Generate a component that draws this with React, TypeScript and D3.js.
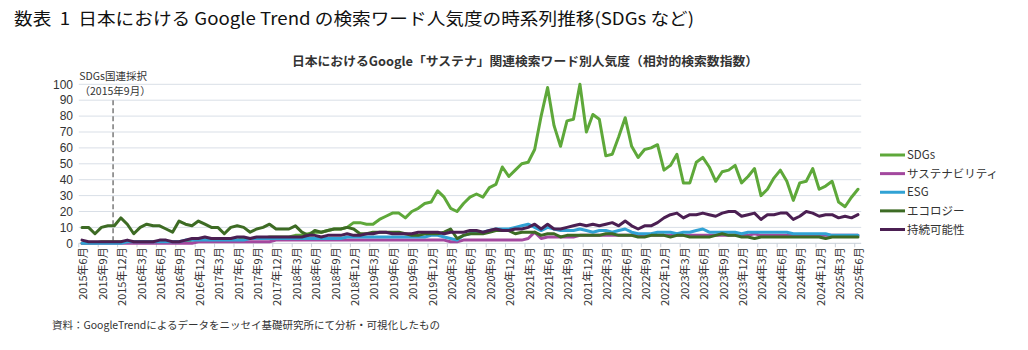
import React from 'react';
import * as d3 from 'd3';

// 2015年6月〜2025年6月 の月次（121点）
const sdgs = [
  0, 0, 0, 1, 1, 1, 1, 1, 1, 1, 1, 1,
  1, 1, 1, 1, 1, 2, 2, 2, 2, 2, 2, 2,
  2, 3, 3, 3, 3, 4, 4, 4, 4, 5, 5, 6,
  7, 7, 8, 9, 9, 10, 13, 13, 12, 12, 15, 17,
  19, 19, 16, 20, 22, 25, 26, 33, 29, 22, 20, 25,
  29, 31, 29, 35, 37, 48, 42, 46, 50, 51, 59, 80,
  98, 74, 61, 77, 78, 100, 70, 81, 78, 55, 56, 67,
  79, 61, 54, 59, 60, 62, 46, 49, 56, 38, 38, 51,
  54, 48, 39, 45, 46, 49, 38, 42, 47, 30, 34, 41,
  46, 39, 27, 38, 39, 47, 34, 36, 39, 26, 23, 29,
  34,
];

const sustainability = [
  0, 0, 0, 0, 0, 0, 0, 0, 0, 0, 0, 0,
  0, 0, 0, 0, 0, 0, 1, 1, 1, 1, 1, 1,
  1, 1, 1, 1, 1, 1, 2, 2, 2, 2, 2, 2,
  2, 2, 2, 2, 2, 2, 2, 2, 2, 2, 2, 2,
  2, 2, 2, 2, 2, 2, 2, 2, 2, 1, 1, 2,
  2, 2, 2, 2, 2, 2, 2, 2, 2, 3, 7, 3,
  4, 4, 4, 4, 4, 5, 5, 5, 5, 5, 5, 5,
  5, 5, 5, 5, 5, 5, 5, 5, 5, 5, 5, 5,
  5, 5, 5, 5, 5, 5, 5, 5, 6, 5, 5, 5,
  5, 5, 5, 5, 5, 5, 5, 5, 5, 5, 5, 5,
  5,
];

const esg = [
  0, 0, 0, 0, 0, 0, 0, 1, 1, 1, 1, 1,
  1, 1, 1, 1, 2, 2, 2, 2, 2, 2, 2, 2,
  2, 2, 3, 3, 3, 3, 3, 3, 3, 3, 3, 3,
  3, 3, 3, 3, 3, 4, 4, 4, 4, 4, 4, 4,
  4, 4, 4, 4, 4, 4, 5, 5, 4, 3, 2, 5,
  6, 7, 7, 8, 9, 9, 9, 10, 11, 12, 10, 8,
  10, 9, 8, 8, 8, 9, 8, 7, 8, 8, 7, 8,
  9, 7, 6, 6, 6, 7, 7, 7, 6, 7, 7, 8,
  9, 7, 7, 7, 7, 7, 6, 7, 7, 7, 7, 7,
  7, 7, 6, 6, 6, 6, 6, 6, 5, 5, 5, 5,
  5,
];

const ecology = [
  10, 10, 6, 10, 11, 11, 16, 12, 6, 10, 12, 11,
  11, 9, 7, 14, 12, 11, 14, 12, 10, 10, 6, 10,
  11, 10, 7, 9, 10, 12, 9, 9, 9, 11, 7, 5,
  8, 7, 8, 9, 9, 10, 9, 6, 6, 7, 7, 7,
  7, 7, 6, 5, 5, 6, 6, 6, 7, 9, 3, 5,
  6, 6, 6, 7, 8, 8, 8, 6, 7, 7, 7, 5,
  6, 6, 4, 5, 5, 5, 5, 5, 5, 6, 6, 5,
  5, 5, 4, 4, 5, 5, 5, 4, 5, 5, 4, 4,
  4, 4, 5, 6, 5, 5, 4, 4, 3, 4, 4, 4,
  4, 4, 4, 4, 4, 4, 4, 3, 4, 4, 4, 4,
  4,
];

const jizoku = [
  2, 1, 1, 1, 1, 1, 1, 2, 1, 1, 1, 1,
  2, 2, 1, 1, 2, 3, 3, 4, 3, 3, 3, 3,
  4, 4, 3, 4, 4, 4, 4, 4, 4, 4, 4, 5,
  5, 4, 5, 5, 5, 6, 5, 5, 6, 6, 7, 7,
  6, 6, 6, 6, 7, 7, 7, 7, 6, 7, 7, 7,
  8, 8, 7, 8, 9, 8, 8, 9, 9, 10, 12, 9,
  12, 9, 9, 10, 11, 12, 11, 12, 11, 12, 13, 11,
  14, 11, 9, 11, 11, 13, 16, 18, 19, 16, 18, 18,
  19, 18, 17, 19, 20, 20, 17, 18, 19, 15, 18, 18,
  19, 19, 15, 17, 20, 19, 17, 18, 18, 16, 17, 16,
  18,
];

const tickLabels = [
  '2015年6月', '2015年9月', '2015年12月', '2016年3月', '2016年6月', '2016年9月', '2016年12月',
  '2017年3月', '2017年6月', '2017年9月', '2017年12月', '2018年3月', '2018年6月', '2018年9月',
  '2018年12月', '2019年3月', '2019年6月', '2019年9月', '2019年12月', '2020年3月', '2020年6月',
  '2020年9月', '2020年12月', '2021年3月', '2021年6月', '2021年9月', '2021年12月', '2022年3月',
  '2022年6月', '2022年9月', '2022年12月', '2023年3月', '2023年6月', '2023年9月', '2023年12月',
  '2024年3月', '2024年6月', '2024年9月', '2024年12月', '2025年3月', '2025年6月',
];

const yTicks = [0, 10, 20, 30, 40, 50, 60, 70, 80, 90, 100];

const series = [
  { name: 'SDGs', values: sdgs, color: '#5ea83a' },
  { name: 'サステナビリティ', values: sustainability, color: '#a3489e' },
  { name: 'ESG', values: esg, color: '#31a2d4' },
  { name: 'エコロジー', values: ecology, color: '#3d6b24' },
  { name: '持続可能性', values: jizoku, color: '#4b1f52' },
];

// SDGs 国連採択（2015年9月）の注記位置（月インデックス）
const adoptionIndex = 4.8;

const jp = '"Noto Sans CJK JP", "Noto Sans", sans-serif';

export default function App() {
  const W = 1028;
  const H = 350;
  const n = sdgs.length;

  const x = d3.scaleLinear().domain([-0.5, n - 0.5]).range([78.8, 861.2]);
  const y = d3.scaleLinear().domain([0, 100]).range([243.3, 84.3]);

  const line = d3.line<number>()
    .x((_, i) => x(i))
    .y(d => y(d));

  const legendY = d3.scaleLinear().domain([0, 4]).range([155, 229.5]);

  return (
    <svg width={W} height={H} style={{ position: 'absolute', left: 0, top: 0, background: '#fff' }}>
      <text x={14} y={25} fontFamily={jp} fontSize={17} fill="#111" style={{ whiteSpace: 'pre' }}
        textLength={680} lengthAdjust="spacingAndGlyphs">
        {'数表  1  日本における Google Trend の検索ワード人気度の時系列推移(SDGs など)'}
      </text>
      <text x={292} y={66} fontFamily={jp} fontSize={12.5} fontWeight="bold" fill="#333"
        textLength={466} lengthAdjust="spacingAndGlyphs">
        日本におけるGoogle「サステナ」関連検索ワード別人気度（相対的検索数指数）
      </text>

      {yTicks.map(t => (
        <g key={t}>
          <line x1={x(-0.5)} x2={x(n - 0.5)} y1={y(t)} y2={y(t)}
            stroke={t === 0 ? '#c9d0d9' : '#d9dfe7'} strokeWidth={1} />
          <text x={73} y={y(t)} dy="0.35em" textAnchor="end"
            fontFamily="'Liberation Sans', Arial, sans-serif" fontSize={12} fill="#333">{t}</text>
        </g>
      ))}

      {tickLabels.map((lab, k) => {
        const i = k * 3;
        return (
          <g key={lab}>
            <line x1={x(i - 0.5)} x2={x(i - 0.5)} y1={y(0)} y2={y(0) + 4} stroke="#c9d0d9" />
            <text transform={`translate(${x(i) + 1},${y(0) + 4}) rotate(-90)`}
              dy="0.4em" textAnchor="end" fontFamily={jp} fontSize={11} fill="#333">{lab}</text>
          </g>
        );
      })}

      <line x1={x(adoptionIndex)} x2={x(adoptionIndex)} y1={y(90)} y2={y(0)}
        stroke="#7a7a7a" strokeWidth={1.5} strokeDasharray="5,3" />
      <text x={x(adoptionIndex)} y={80} textAnchor="middle" fontFamily={jp} fontSize={10.5} fill="#333">SDGs国連採択</text>
      <text x={x(adoptionIndex) + 2} y={95} textAnchor="middle" fontFamily={jp} fontSize={10.5} fill="#333">（2015年9月）</text>

      {series.map(s => (
        <path key={s.name} d={line(s.values) || ''} fill="none" stroke={s.color}
          strokeWidth={3} strokeLinejoin="round" strokeLinecap="round" />
      ))}

      {series.map((s, k) => (
        <g key={s.name} transform={`translate(0,${legendY(k)})`}>
          <line x1={880} x2={905} y1={0} y2={0} stroke={s.color} strokeWidth={3} />
          <text x={907} y={0} dy="0.35em" fontFamily={jp} fontSize={11.5} fill="#333">{s.name}</text>
        </g>
      ))}

      <text x={52} y={329} fontFamily={jp} fontSize={10.5} fill="#333">
        資料：GoogleTrendによるデータをニッセイ基礎研究所にて分析・可視化したもの
      </text>
    </svg>
  );
}
